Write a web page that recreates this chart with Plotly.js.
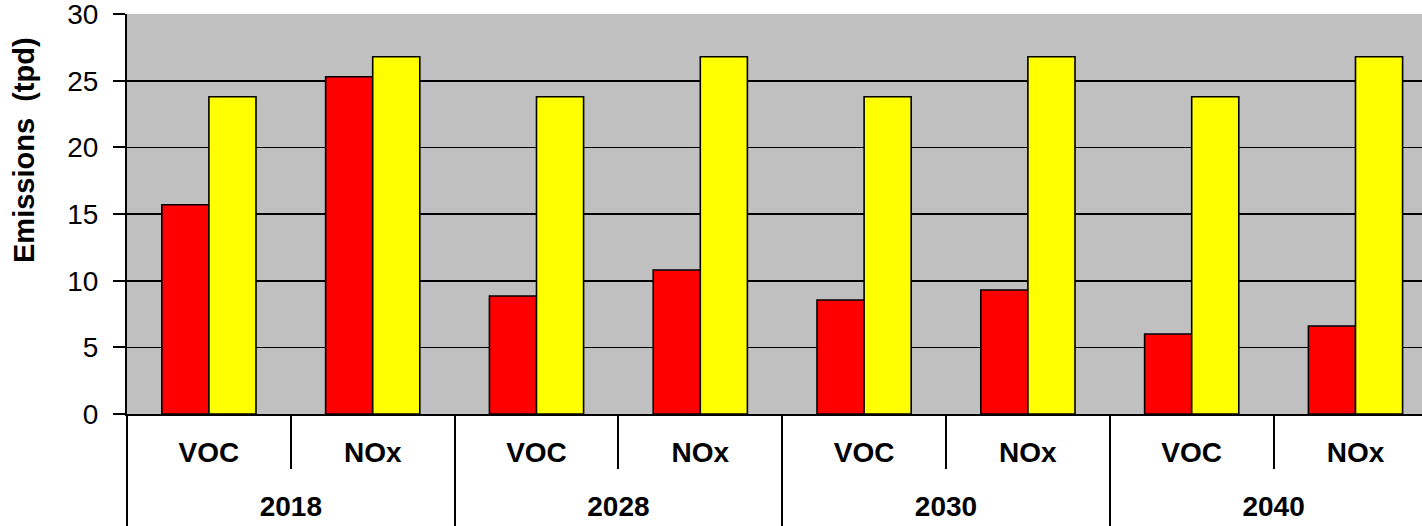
<!DOCTYPE html>
<html>
<head>
<meta charset="utf-8">
<script src="https://cdn.plot.ly/plotly-3.0.1.min.js"></script>
<style>html,body{margin:0;padding:0;background:#fff;}#chart{width:1422px;height:526px;}</style>
</head>
<body>
<div id="chart"></div>
<script>
// ---- data ----
const years = ['2018', '2028', '2030', '2040'];
const pollutants = ['VOC', 'NOx'];
const seriesRed = [15.7, 25.3, 8.85, 10.8, 8.55, 9.3, 6.0, 6.6];
const seriesYellow = [23.8, 26.8, 23.8, 26.8, 23.8, 26.8, 23.8, 26.8];
const yTicks = [0, 5, 10, 15, 20, 25, 30];
const yTitle = 'Emissions\u00a0 (tpd)';

// ---- derived category positions ----
const idx = [];
const innerLabels = [];
for (let g = 0; g < years.length; g++) {
  for (let p = 0; p < pollutants.length; p++) {
    idx.push(g * pollutants.length + p);
    innerLabels.push(pollutants[p]);
  }
}
const groupCenters = years.map((y, g) => g * pollutants.length + (pollutants.length - 1) / 2);
const groupBounds = years.map((y, g) => g * pollutants.length - 0.5);
const innerBounds = [];
for (let g = 0; g < years.length; g++) {
  for (let p = 1; p < pollutants.length; p++) innerBounds.push(g * pollutants.length + p - 0.5);
}

const W = 1422, H = 526;
const margin = {l: 127, r: 0, t: 14, b: 112, pad: 0};
const catPx = 163.8;
const xRange = [-0.5, -0.5 + (W - margin.l) / catPx];

const font = 'Arial, "Liberation Sans", sans-serif';
const outline = {color: '#000', width: 1.6};

const traces = [
  {type: 'bar', x: idx, y: seriesRed, marker: {color: '#FF0000', line: outline}, showlegend: false, hoverinfo: 'y'},
  {type: 'bar', x: idx, y: seriesYellow, marker: {color: '#FFFF00', line: outline}, showlegend: false, hoverinfo: 'y'},
  {type: 'scatter', x: [], y: [], xaxis: 'x2', showlegend: false, hoverinfo: 'skip'},
  {type: 'scatter', x: [], y: [], xaxis: 'x3', showlegend: false, hoverinfo: 'skip'},
  {type: 'scatter', x: [], y: [], xaxis: 'x4', showlegend: false, hoverinfo: 'skip'}
];

const baseX = {
  type: 'linear', range: xRange, showgrid: false, zeroline: false, fixedrange: true
};

const layout = {
  width: W, height: H, margin: margin,
  paper_bgcolor: '#FFFFFF', plot_bgcolor: '#C0C0C0',
  barmode: 'group', bargap: 0.425, bargroupgap: 0,
  showlegend: false,
  font: {family: font, color: '#000'},
  xaxis: Object.assign({}, baseX, {
    tickvals: innerBounds, ticks: 'outside', ticklen: 53, tickwidth: 2, tickcolor: '#000',
    showticklabels: false, showline: true, linecolor: '#000', linewidth: 2
  }),
  xaxis2: Object.assign({}, baseX, {
    overlaying: 'x', anchor: 'y', side: 'bottom',
    tickvals: idx, ticktext: innerLabels, ticks: '', showline: false,
    tickfont: {family: font, size: 28, weight: 'bold', color: '#000'},
    ticklabelstandoff: 19
  }),
  xaxis3: Object.assign({}, baseX, {
    overlaying: 'x', anchor: 'y', side: 'bottom',
    tickvals: groupCenters, ticktext: years, ticks: '', showline: false,
    tickfont: {family: font, size: 28, weight: 'bold', color: '#000'},
    ticklabelstandoff: 73
  }),
  xaxis4: Object.assign({}, baseX, {
    overlaying: 'x', anchor: 'y', side: 'bottom',
    tickvals: groupBounds, ticks: 'outside', ticklen: 112, tickwidth: 2, tickcolor: '#000',
    showticklabels: false, showline: false
  }),
  yaxis: {
    range: [0, 30.01], tickvals: yTicks, ticks: 'outside', ticklen: 12, tickwidth: 2, tickcolor: '#000',
    showgrid: true, gridcolor: '#000', gridwidth: 1.6, zeroline: false,
    showline: true, linecolor: '#000', linewidth: 2,
    tickfont: {family: font, size: 28, color: '#000'}, ticklabelstandoff: 9,
    ticklabeloverflow: 'allow', fixedrange: true
  },
  annotations: [{
    xref: 'paper', yref: 'paper', x: (24 - margin.l) / (W - margin.l - margin.r), y: 0.66,
    xanchor: 'center', yanchor: 'middle', textangle: -90, showarrow: false,
    text: yTitle, font: {family: font, size: 29, weight: 'bold', color: '#000'}
  }]
};

Plotly.newPlot('chart', traces, layout, {displayModeBar: false, staticPlot: true});
</script>
</body>
</html>
